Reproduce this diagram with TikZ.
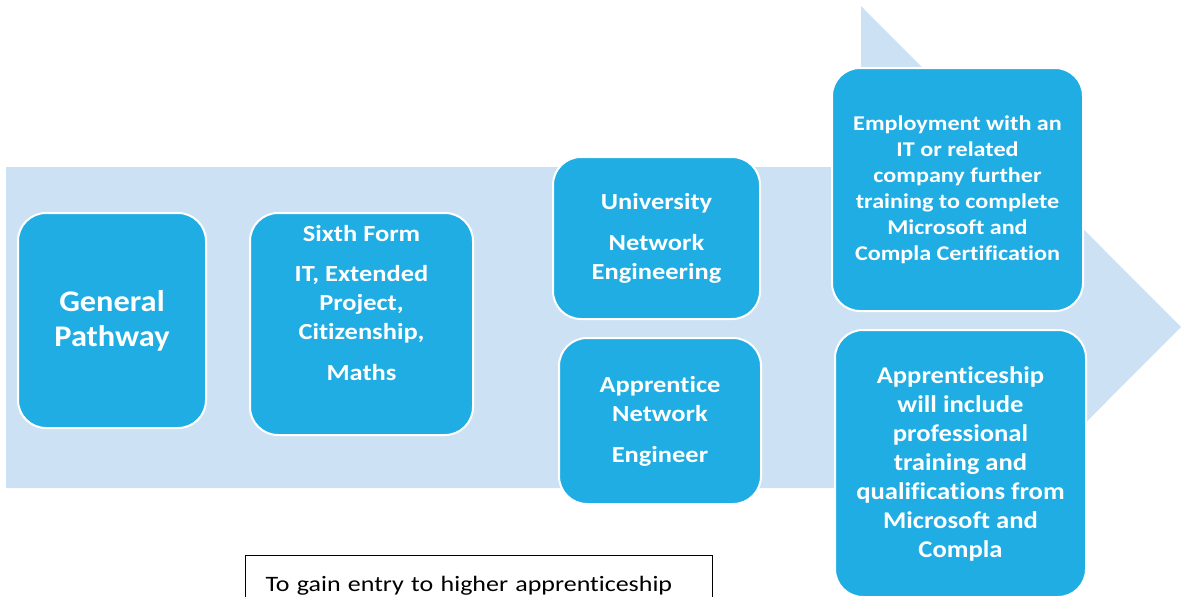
\documentclass[tikz,border=0pt]{standalone}
\usepackage{fontspec}
\setmainfont{Carlito}[Ligatures=NoCommon, FakeStretch=1.15]
\newfontfamily\gpfont{Carlito}[Ligatures=NoCommon, FakeStretch=1.08]
\newfontfamily\apsfont{Carlito}[Ligatures=NoCommon, FakeStretch=1.11]
\newfontfamily\notefont{Carlito}[Ligatures=NoCommon, FakeStretch=1.18]
\definecolor{arrowbg}{RGB}{204,226,244}
\definecolor{boxblue}{RGB}{31,173,227}
\begin{document}
\begin{tikzpicture}[x=1pt,y=-1pt,
  stepbox/.style={draw=white, line width=2pt, fill=boxblue, rounded corners=28pt, inner sep=0pt,
    text=white, align=center},
  txt/.style={text=white, align=center, inner sep=0pt},
]
\useasboundingbox (0,0) rectangle (1181,597);
\begin{scope}
\clip (0,0) rectangle (1181,597);
\fill[arrowbg] (6,167) -- (861,167) -- (861,6) -- (1181,327) -- (861,648) -- (861,488) -- (6,488) -- cycle;
\end{scope}
% boxes
\node[stepbox, minimum width=188pt, minimum height=215pt,
  font=\gpfont\bfseries\fontsize{30pt}{35pt}\selectfont] (gp) at (112,320.5) {General\\Pathway};
\node[stepbox, minimum width=223pt, minimum height=222pt] (sf) at (361.5,324) {};
\node[txt, font=\bfseries\fontsize{23pt}{29pt}\selectfont] (sftext) at (361.5,303)
  {Sixth Form\\[11pt]IT, Extended\\Project,\\Citizenship,\\[12pt]Maths};
\node[stepbox, minimum width=207pt, minimum height=162pt,
  font=\bfseries\fontsize{23pt}{29pt}\selectfont] (uni) at (656.5,238)
  {University\\[12pt]Network\\Engineering};
\node[stepbox, minimum width=202pt, minimum height=166pt,
  font=\bfseries\fontsize{23pt}{29pt}\selectfont] (app) at (660,421)
  {Apprentice\\Network\\[12pt]Engineer};
\node[stepbox, minimum width=251pt, minimum height=243pt,
  font=\bfseries\fontsize{21pt}{26pt}\selectfont] (emp) at (957.5,189.5)
  {Employment with an\\IT or related\\company further\\training to complete\\Microsoft and\\Compla Certification};
\node[stepbox, minimum width=251pt, minimum height=267pt,
  font=\apsfont\bfseries\fontsize{24pt}{29pt}\selectfont] (aps) at (960.5,463.5)
  {Apprenticeship\\will include\\professional\\training and\\qualifications from\\Microsoft and\\Compla};
% note box
\node[draw=black, line width=1pt, anchor=north west, inner xsep=20pt, inner ysep=20pt,
  text width=427pt, align=left, text height=16pt, text depth=40pt,
  font=\notefont\fontsize{22pt}{26pt}\selectfont] (note) at (245,555)
  {To gain entry to higher apprenticeship};
\end{tikzpicture}
\end{document}
